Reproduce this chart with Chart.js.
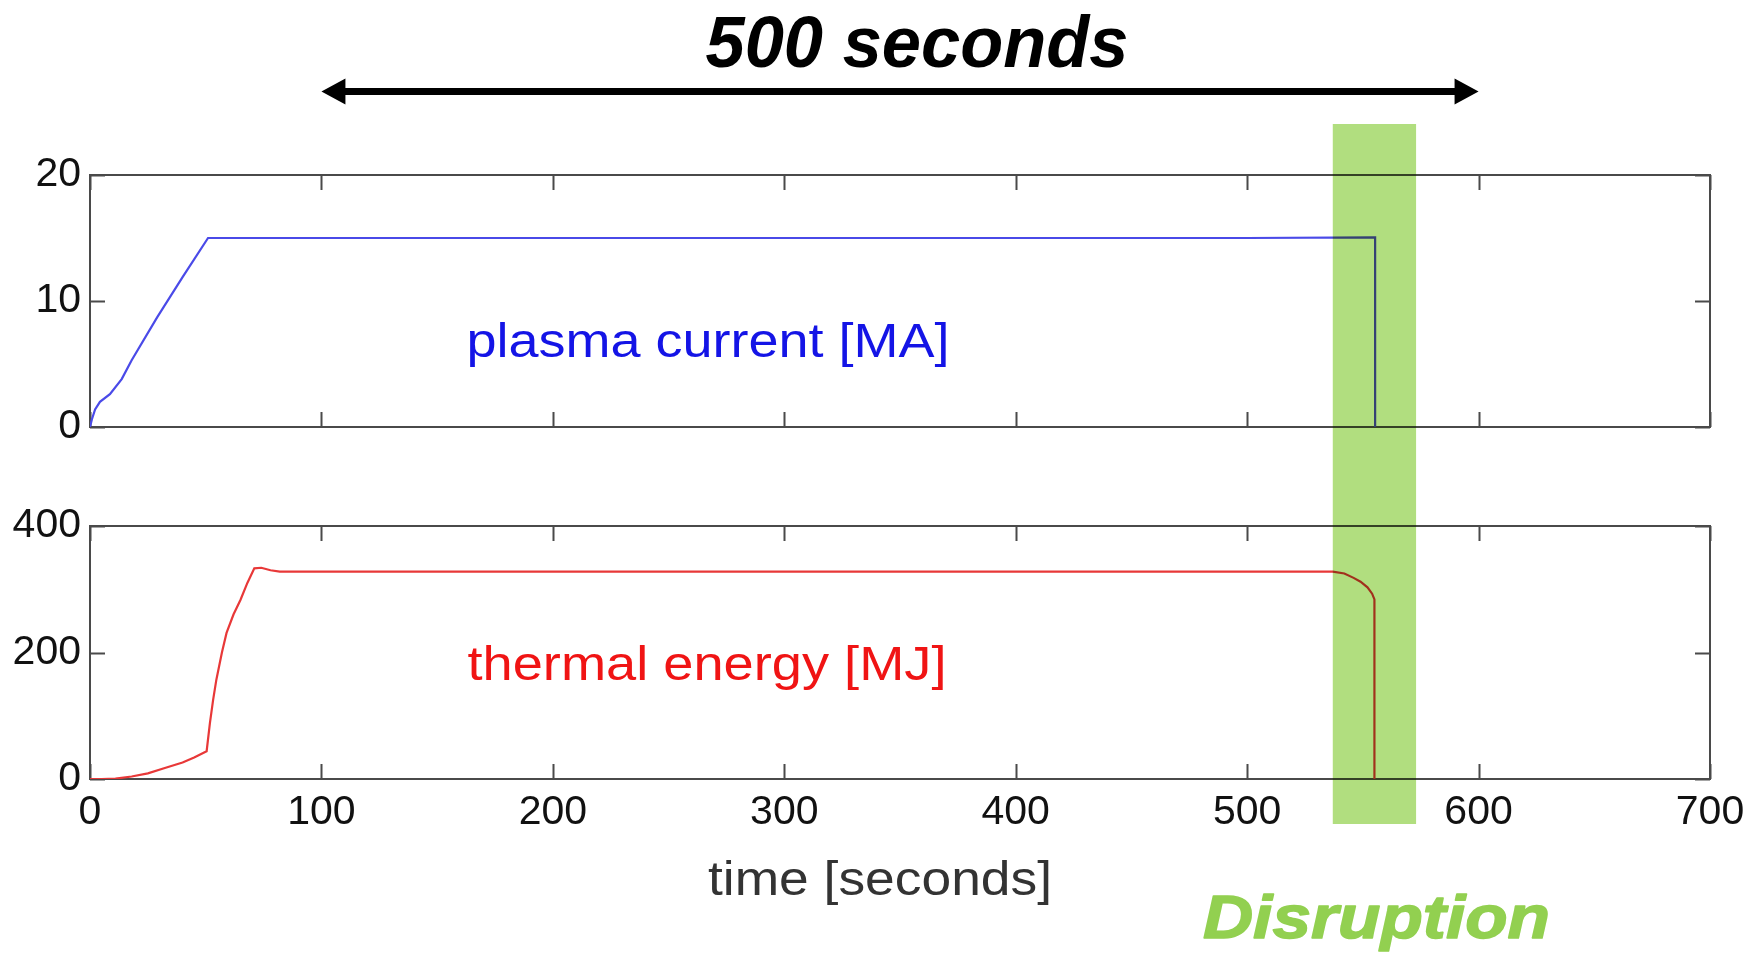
<!DOCTYPE html>
<html>
<head>
<meta charset="utf-8">
<script src="https://cdn.jsdelivr.net/npm/chart.js@4.4.1/dist/chart.umd.min.js"></script>
<style>
  html, body { margin: 0; padding: 0; background: #fff; }
  .panel { position: absolute; left: 0; width: 1749px; height: 480px; }
  #top { top: 0; }
  #bottom { top: 480px; }
</style>
</head>
<body>
<div class="panel" id="top"><canvas id="currentChart" width="1749" height="480"></canvas></div>
<div class="panel" id="bottom"><canvas id="energyChart" width="1749" height="480"></canvas></div>
<script>
// ---- data ----
const xTickValues = [0, 100, 200, 300, 400, 500, 600, 700];
const currentTickValues = [0, 10, 20];
const energyTickValues = [0, 200, 400];

const currentTime = [0, 0.8, 2.2, 4.3, 8.6, 13.7, 18, 29, 40, 51, 100, 200, 300, 400, 500, 555.3, 555.3];
const currentMA = [0, 0.6, 1.4, 2.0, 2.6, 3.8, 5.3, 8.7, 11.9, 15, 15, 15, 15, 15, 15, 15.05, 0];

const energyTime = [0, 5, 11, 18, 25, 32, 40, 45, 50.4, 51.8, 53.2, 54.6, 57, 59, 62, 65, 68, 71, 74, 78, 82,
  150, 250, 350, 450, 537, 542, 546, 549, 552, 554, 555, 555];
const energyMJ = [0, 0, 0.5, 4, 9, 17, 26, 34, 44, 88, 125, 157, 200, 231, 260, 283, 310, 333, 334, 330, 328,
  328, 328, 328, 328, 328, 325, 318, 312, 303, 293, 284, 0];

const disruptionWindow = [537, 573];
const spanArrow = [100, 600];

const FONT = '"Liberation Sans", Arial, Helvetica, sans-serif';
Chart.defaults.font.family = FONT;

// draw text squeezed/stretched to a given width (the original slide text is wider than normal)
function stretchedText(ctx, str, x, baseline, font, color, width, align, thicken) {
  ctx.save();
  ctx.font = font;
  ctx.fillStyle = color;
  ctx.textBaseline = 'alphabetic';
  ctx.textAlign = 'left';
  const w = ctx.measureText(str).width;
  const sx = width / w;
  const left = align === 'left' ? x : x - width / 2;
  ctx.translate(left, baseline);
  ctx.scale(sx, 1);
  ctx.fillText(str, 0, 0);
  if (thicken) {
    ctx.strokeStyle = color;
    ctx.lineWidth = thicken;
    ctx.lineJoin = 'round';
    ctx.strokeText(str, 0, 0);
  }
  ctx.restore();
}

// matlab style box with inward ticks
function framePlugin(yTicks) {
  return {
    id: 'frame',
    beforeDatasetsDraw(chart) {
      const { ctx, chartArea: a, scales: { x, y } } = chart;
      ctx.save();
      ctx.strokeStyle = '#4a4a4a';
      ctx.lineWidth = 2;
      ctx.strokeRect(a.left, a.top, a.right - a.left, a.bottom - a.top);
      ctx.beginPath();
      xTickValues.forEach(v => {
        const px = Math.round(x.getPixelForValue(v)) + 0.5;
        ctx.moveTo(px, a.bottom); ctx.lineTo(px, a.bottom - 15);
        ctx.moveTo(px, a.top); ctx.lineTo(px, a.top + 15);
      });
      yTicks.forEach(v => {
        const py = Math.round(y.getPixelForValue(v)) + 0.5;
        ctx.moveTo(a.left, py); ctx.lineTo(a.left + 15, py);
        ctx.moveTo(a.right, py); ctx.lineTo(a.right - 15, py);
      });
      ctx.stroke();
      ctx.restore();
    }
  };
}

function bandPlugin(extendUp, extendDown) {
  return {
    id: 'band',
    afterDatasetsDraw(chart) {
      const { ctx, chartArea: a, scales: { x } } = chart;
      const x0 = x.getPixelForValue(disruptionWindow[0]);
      const x1 = x.getPixelForValue(disruptionWindow[1]);
      const top = extendUp == null ? 0 : a.top - extendUp;
      const bottom = extendDown == null ? chart.height : a.bottom + extendDown;
      ctx.save();
      ctx.globalCompositeOperation = 'multiply';
      ctx.fillStyle = '#b1de7f';
      ctx.fillRect(x0, top, x1 - x0, bottom - top);
      ctx.restore();
    }
  };
}

function yAxis(min, max, ticks) {
  return {
    type: 'linear',
    min: min,
    max: max,
    afterBuildTicks: s => { s.ticks = ticks.map(v => ({ value: v })); },
    afterFit: s => { s.width = 90; },
    grid: { display: false, drawTicks: false },
    border: { display: false },
    ticks: { font: { size: 41 }, color: '#111', padding: 9 }
  };
}

function points(xs, ys) {
  return xs.map((t, i) => ({ x: t, y: ys[i] }));
}

// ---- top panel: plasma current ----
new Chart(document.getElementById('currentChart'), {
  type: 'line',
  data: {
    datasets: [{
      label: 'plasma current [MA]',
      data: points(currentTime, currentMA),
      borderColor: '#4a4ae8',
      borderWidth: 2.2,
      pointRadius: 0,
      tension: 0
    }]
  },
  options: {
    responsive: false,
    devicePixelRatio: 1,
    animation: false,
    layout: { padding: { top: 175, right: 39, bottom: 53, left: 0 } },
    plugins: { legend: { display: false }, tooltip: { enabled: false } },
    scales: {
      x: { type: 'linear', min: 0, max: 700, display: false },
      y: yAxis(0, 20, currentTickValues)
    }
  },
  plugins: [
    framePlugin(currentTickValues),
    bandPlugin(51, null),
    {
      id: 'topText',
      afterDraw(chart) {
        const { ctx, scales: { x } } = chart;
        stretchedText(ctx, 'plasma current [MA]', 708, 357, '48px ' + FONT, '#1414e6', 483);
        // 500 seconds arrow
        const xl = x.getPixelForValue(spanArrow[0]);
        const xr = x.getPixelForValue(spanArrow[1]);
        const ay = 91.5, head = 24, half = 13;
        ctx.save();
        ctx.fillStyle = '#000';
        ctx.fillRect(xl + head - 2, ay - 3.5, xr - xl - 2 * head + 4, 7);
        ctx.beginPath();
        ctx.moveTo(xl, ay); ctx.lineTo(xl + head, ay - half); ctx.lineTo(xl + head, ay + half); ctx.closePath();
        ctx.moveTo(xr, ay); ctx.lineTo(xr - head, ay - half); ctx.lineTo(xr - head, ay + half); ctx.closePath();
        ctx.fill();
        ctx.restore();
        stretchedText(ctx, '500 seconds', 917, 67, 'italic bold 72px ' + FONT, '#000', 423);
      }
    }
  ]
});

// ---- bottom panel: thermal energy ----
new Chart(document.getElementById('energyChart'), {
  type: 'line',
  data: {
    datasets: [{
      label: 'thermal energy [MJ]',
      data: points(energyTime, energyMJ),
      borderColor: '#e83838',
      borderWidth: 2.2,
      pointRadius: 0,
      tension: 0
    }]
  },
  options: {
    responsive: false,
    devicePixelRatio: 1,
    animation: false,
    layout: { padding: { top: 46, right: 39, bottom: 0, left: 0 } },
    plugins: { legend: { display: false }, tooltip: { enabled: false } },
    scales: {
      x: {
        type: 'linear',
        min: 0,
        max: 700,
        afterBuildTicks: s => { s.ticks = xTickValues.map(v => ({ value: v })); },
        afterFit: s => { s.height = 181; s.paddingLeft = 0; s.paddingRight = 0; },
        grid: { display: false, drawTicks: false },
        border: { display: false },
        ticks: { font: { size: 41 }, color: '#111', padding: 9, maxRotation: 0 }
      },
      y: yAxis(0, 400, energyTickValues)
    }
  },
  plugins: [
    framePlugin(energyTickValues),
    bandPlugin(null, 45),
    {
      id: 'bottomText',
      afterDraw(chart) {
        const { ctx } = chart;
        stretchedText(ctx, 'thermal energy [MJ]', 707, 200, '48px ' + FONT, '#f01414', 479);
        stretchedText(ctx, 'time [seconds]', 880, 415, '48px ' + FONT, '#333', 344);
        stretchedText(ctx, 'Disruption', 1203, 458, 'italic bold 62px ' + FONT, '#92d050', 347, 'left', 1.5);
      }
    }
  ]
});
</script>
</body>
</html>
